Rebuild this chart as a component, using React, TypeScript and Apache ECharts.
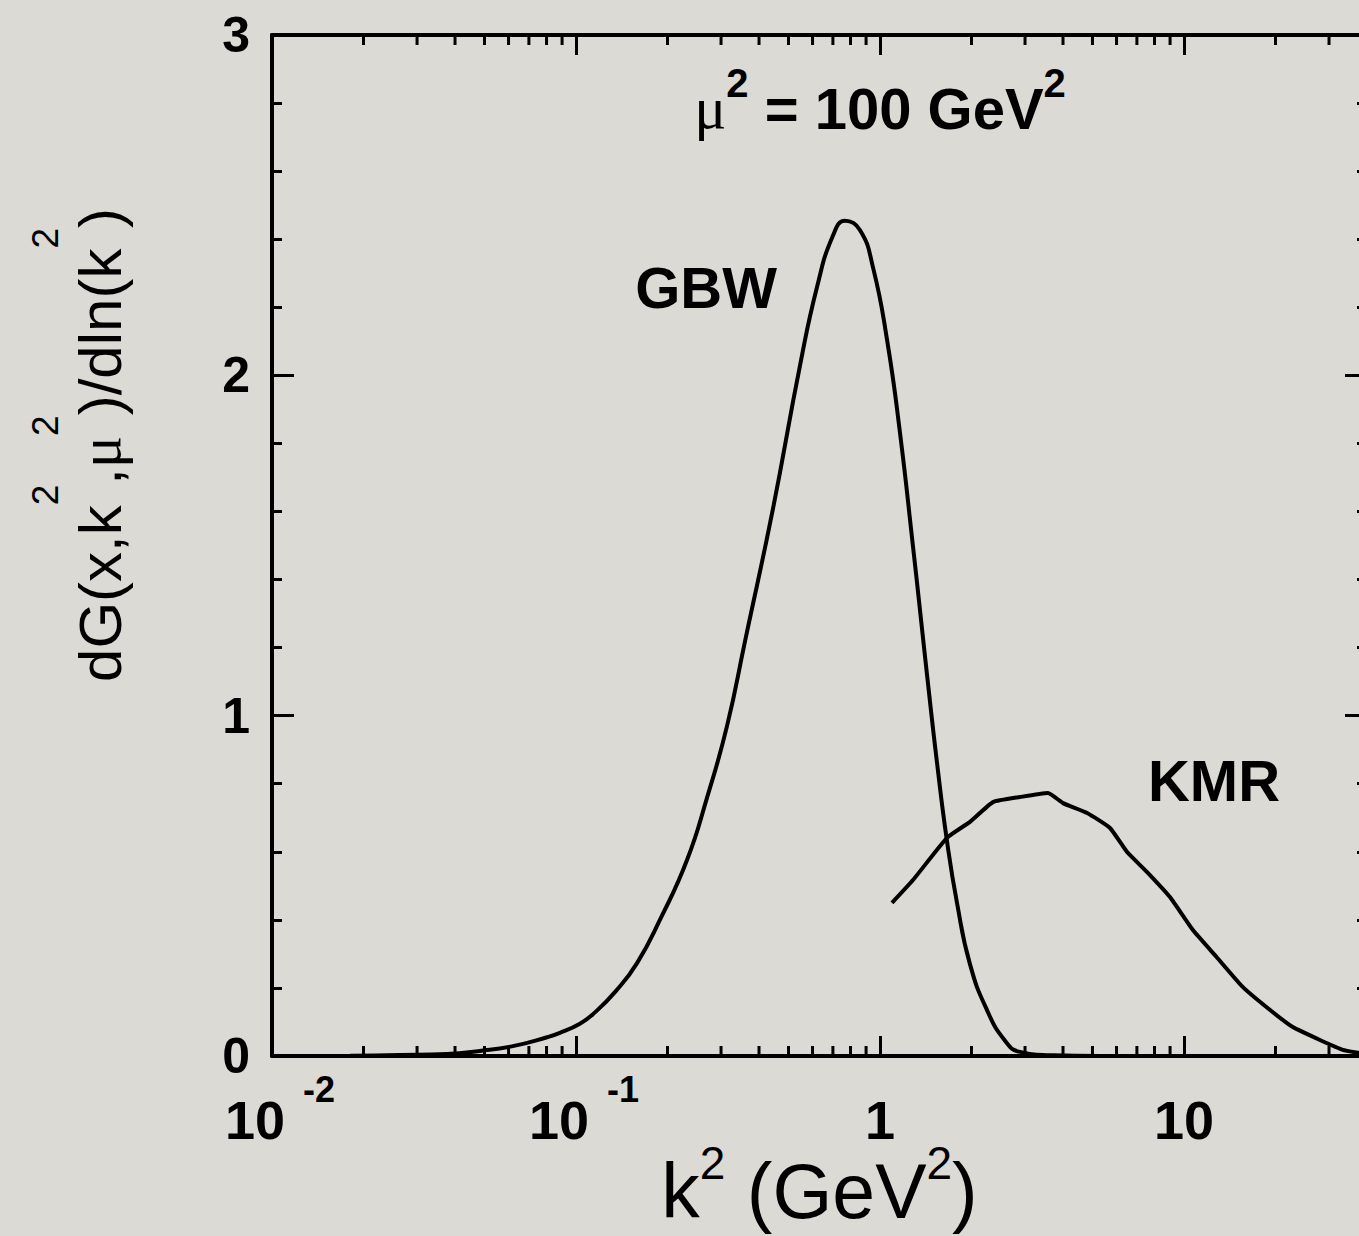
import { useEffect, useRef } from 'react';
import * as echarts from 'echarts';

// GBW unintegrated gluon: k^2 (GeV^2) and dG/dln(k^2)
const gbwK2 = [
  0.01, 0.0181, 0.0264, 0.0376, 0.0483, 0.062, 0.0803, 0.0885, 0.103, 0.1138,
  0.135, 0.1588, 0.1888, 0.2317, 0.27, 0.314, 0.36, 0.445, 0.546, 0.621,
  0.7, 0.767, 0.859, 0.948, 1.055, 1.164, 1.283, 1.354, 1.428, 1.541,
  1.662, 1.792, 1.977, 2.249, 2.578, 2.89, 3.71, 5.3,
];
const gbwValues = [
  0.0, 0.001, 0.003, 0.006, 0.015, 0.029, 0.055, 0.068, 0.095, 0.123,
  0.19, 0.273, 0.4, 0.575, 0.76, 0.97, 1.22, 1.61, 2.03, 2.26,
  2.41, 2.454, 2.427, 2.318, 2.104, 1.83, 1.5, 1.31, 1.12, 0.86,
  0.63, 0.45, 0.27, 0.135, 0.045, 0.012, 0.002, 0.0,
];

// KMR unintegrated gluon
const kmrK2 = [
  1.095, 1.284, 1.661, 1.977, 2.354, 2.887, 3.57, 4.0, 4.8, 5.71,
  6.49, 7.55, 8.99, 10.7, 12.8, 15.6, 19.2, 22.8, 28.0, 33.3,
  37.6, 40.0,
];
const kmrValues = [
  0.45, 0.517, 0.641, 0.688, 0.746, 0.761, 0.773, 0.743, 0.714, 0.67,
  0.6, 0.541, 0.467, 0.37, 0.291, 0.203, 0.135, 0.085, 0.047, 0.018,
  0.009, 0.005,
];

// Axis ranges and tick labels
const xMin = 0.01;
const xMax = 40;
const yMin = 0;
const yMax = 3;
const xMajorTicks = [0.01, 0.1, 1, 10];
const xMajorLabels = ['10^-2', '10^-1', '1', '10'];

const SANS = '"Liberation Sans", Arial, Helvetica, sans-serif';
const SERIF = '"Liberation Serif", "DejaVu Serif", serif';
const INK = '#000';
const BG = '#dcdad4';

// minor ticks of the log axis: 2..9 within every decade
function logMinorTicks(min: number, max: number): number[] {
  const out: number[] = [];
  for (let e = Math.floor(Math.log10(min)); e <= Math.ceil(Math.log10(max)); e++) {
    for (let m = 2; m <= 9; m++) {
      const v = m * Math.pow(10, e);
      if (v > min && v < max) out.push(v);
    }
  }
  return out;
}

function toRichLabel(s: string): string {
  const [base, exp] = s.split('^');
  return exp !== undefined ? `{bp|${base}}{e|${exp}}` : `{b|${base}}`;
}

function xLabelFormatter(value: number): string {
  const lg = Math.log10(value);
  const idx = xMajorTicks.findIndex((t) => Math.abs(Math.log10(t) - lg) < 1e-6);
  return idx >= 0 ? toRichLabel(xMajorLabels[idx]) : '';
}

export default function App() {
  const ref = useRef<HTMLDivElement | null>(null);

  useEffect(() => {
    if (!ref.current) return;
    const chart = echarts.init(ref.current, undefined, { renderer: 'svg' });

    const axisLine = { show: true, onZero: false, lineStyle: { color: INK, width: 4 } };
    const majorTick = { show: true, inside: true, length: 20, lineStyle: { color: INK, width: 3 } };

    const xAxisBase = {
      type: 'log' as const,
      logBase: 10,
      min: xMin,
      max: xMax,
      gridIndex: 0,
      axisLine,
      axisTick: majorTick,
      splitLine: { show: false },
      minorSplitLine: { show: false },
    };

    const yAxisBase = {
      type: 'value' as const,
      min: yMin,
      max: yMax,
      interval: 1,
      gridIndex: 0,
      axisLine,
      axisTick: { show: true, inside: true, length: 22, lineStyle: { color: INK, width: 3 } },
      minorTick: { show: true, splitNumber: 5, length: 10, lineStyle: { color: INK, width: 3 } },
      splitLine: { show: false },
      minorSplitLine: { show: false },
    };

    const minorTicks = logMinorTicks(xMin, xMax);

    chart.setOption({
      animation: false,
      backgroundColor: BG,
      grid: {
        left: 272,
        top: 35,
        right: 33,
        bottom: 180,
        containLabel: false,
        outerBoundsMode: 'none',
      },
      xAxis: [
        {
          ...xAxisBase,
          position: 'bottom',
          name: '{m|k}{s|2}{m| (GeV}{s|2}{m|)}',
          nameLocation: 'middle',
          nameGap: 84,
          nameMoveOverlap: false,
          nameTextStyle: {
            color: INK,
            fontFamily: SANS,
            fontSize: 77,
            rich: {
              m: { fontFamily: SANS, fontSize: 77, color: INK, lineHeight: 102, verticalAlign: 'middle' },
              s: { fontFamily: SANS, fontSize: 46, color: INK, lineHeight: 46, verticalAlign: 'top' },
            },
          },
          axisLabel: {
            show: true,
            margin: 15,
            showMinLabel: true,
            showMaxLabel: true,
            hideOverlap: false,
            color: INK,
            fontFamily: SANS,
            fontWeight: 'bold',
            fontSize: 54,
            formatter: xLabelFormatter,
            rich: {
              b: { fontFamily: SANS, fontWeight: 'bold', fontSize: 54, color: INK, lineHeight: 98, verticalAlign: 'middle' },
              bp: {
                fontFamily: SANS, fontWeight: 'bold', fontSize: 54, color: INK, lineHeight: 98,
                verticalAlign: 'middle', padding: [0, 0, 0, 16],
              },
              e: {
                fontFamily: SANS, fontWeight: 'bold', fontSize: 36, color: INK, lineHeight: 36,
                verticalAlign: 'top', padding: [0, 0, 0, 18],
              },
            },
          },
        },
        {
          ...xAxisBase,
          position: 'top',
          axisLabel: { show: false },
        },
      ],
      yAxis: [
        {
          ...yAxisBase,
          position: 'left',
          axisLabel: {
            show: true,
            margin: 22,
            color: INK,
            fontFamily: SANS,
            fontWeight: 'bold',
            fontSize: 50,
          },
        },
        {
          ...yAxisBase,
          position: 'right',
          axisLabel: { show: false },
        },
      ],
      series: [
        {
          name: 'GBW',
          type: 'line',
          xAxisIndex: 0,
          yAxisIndex: 0,
          data: gbwK2.map((k, i) => [k, gbwValues[i]]),
          showSymbol: false,
          smooth: 0.5,
          lineStyle: { color: INK, width: 4 },
          z: 3,
        },
        {
          name: 'KMR',
          type: 'line',
          xAxisIndex: 0,
          yAxisIndex: 0,
          data: kmrK2.map((k, i) => [k, kmrValues[i]]),
          showSymbol: false,
          smooth: 0.15,
          lineStyle: { color: INK, width: 4 },
          z: 3,
        },
        {
          // short minor ticks on the bottom and top edges of the log axis
          name: 'xMinorTicks',
          type: 'custom',
          xAxisIndex: 0,
          yAxisIndex: 0,
          silent: true,
          clip: false,
          z: 4,
          data: minorTicks.map((v) => [v, yMin]),
          encode: { x: 0, y: 1 },
          renderItem: (_params: any, api: any) => {
            const v = api.value(0);
            const b = api.coord([v, yMin]);
            const t = api.coord([v, yMax]);
            const style = { stroke: INK, lineWidth: 3 };
            return {
              type: 'group',
              children: [
                { type: 'line', shape: { x1: b[0], y1: b[1], x2: b[0], y2: b[1] - 10 }, style },
                { type: 'line', shape: { x1: t[0], y1: t[1], x2: t[0], y2: t[1] + 10 }, style },
              ],
            };
          },
        },
      ],
      graphic: [
        {
          type: 'text',
          x: 100,
          y: 445,
          rotation: Math.PI / 2,
          style: {
            text: '{m|dG(x,k}{s|2}{m|,}{mu|μ}{s|2}{m|)/dln(k}{s|2}{m|)}',
            align: 'center',
            verticalAlign: 'middle',
            fill: INK,
            rich: {
              m: { fontFamily: SANS, fontSize: 60, fill: INK, lineHeight: 146, verticalAlign: 'middle' },
              mu: { fontFamily: SERIF, fontSize: 60, fill: INK, lineHeight: 146, verticalAlign: 'middle' },
              s: { fontFamily: SANS, fontSize: 37, fill: INK, lineHeight: 37, verticalAlign: 'top' },
            },
          },
        },
        {
          type: 'text',
          x: 880,
          y: 108,
          style: {
            text: '{mu|μ}{s|2}{b| = 100 GeV}{s|2}',
            align: 'center',
            verticalAlign: 'middle',
            fill: INK,
            rich: {
              mu: { fontFamily: SERIF, fontSize: 60, fill: INK, lineHeight: 90, verticalAlign: 'middle' },
              b: { fontFamily: SANS, fontWeight: 'bold', fontSize: 58, fill: INK, lineHeight: 90, verticalAlign: 'middle' },
              s: { fontFamily: SANS, fontWeight: 'bold', fontSize: 40, fill: INK, lineHeight: 40, verticalAlign: 'top' },
            },
          },
        },
        {
          type: 'text',
          x: 706,
          y: 287,
          style: {
            text: 'GBW',
            align: 'center',
            verticalAlign: 'middle',
            fill: INK,
            font: `bold 58px ${SANS}`,
          },
        },
        {
          type: 'text',
          x: 1214,
          y: 780,
          style: {
            text: 'KMR',
            align: 'center',
            verticalAlign: 'middle',
            fill: INK,
            font: `bold 58px ${SANS}`,
          },
        },
      ],
    });

    return () => {
      chart.dispose();
    };
  }, []);

  return (
    <div
      style={{
        position: 'fixed',
        left: 0,
        top: 0,
        width: 1359,
        height: 1236,
        overflow: 'hidden',
        background: BG,
      }}
    >
      <div ref={ref} style={{ width: 1400, height: 1236 }} />
    </div>
  );
}
